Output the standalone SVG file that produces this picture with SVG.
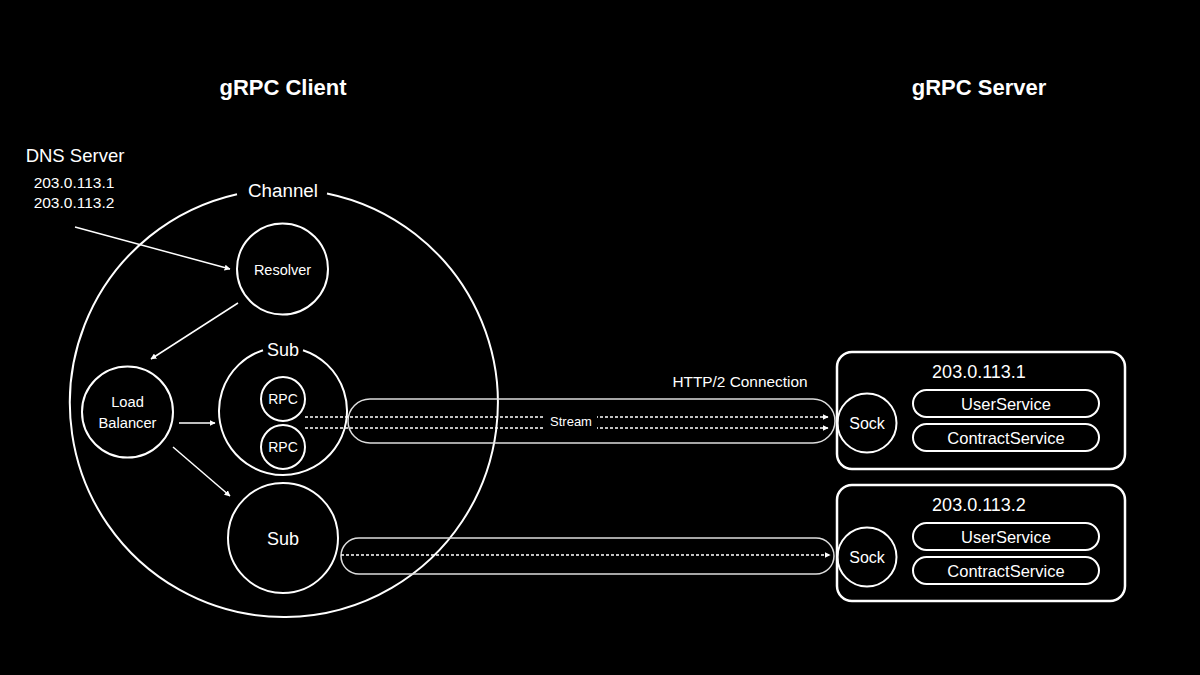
<svg xmlns="http://www.w3.org/2000/svg" width="1200" height="675" viewBox="0 0 1200 675">
<defs>
<style>
text{font-family:"Liberation Sans","Noto Sans",Arial,sans-serif;fill:#fff;text-anchor:middle}
.c{fill:none;stroke:#fff;stroke-width:2}
.pill{fill:none;stroke:#ddd;stroke-width:1.5}
.box{fill:none;stroke:#fff;stroke-width:2.5}
.arr{stroke:#fff;stroke-width:1.5;fill:none;marker-end:url(#ah)}
.dot{stroke:#fff;stroke-width:1.5;fill:none;stroke-dasharray:3 2;marker-end:url(#ah)}
.title{font-size:22px;font-weight:bold}
.svc{font-size:16.5px}
.ip{font-size:18px}
</style>
<marker id="ah" viewBox="0 0 10 10" refX="9" refY="5" markerWidth="6" markerHeight="6" orient="auto" markerUnits="userSpaceOnUse">
<path d="M0,0 L10,5 L0,10 z" fill="#fff"/>
</marker>
</defs>
<rect width="1200" height="675" fill="#000"/>

<text class="title" x="283" y="95">gRPC Client</text>
<text class="title" x="979" y="95">gRPC Server</text>

<g id="dns">
<text x="75" y="162" font-size="18.5">DNS Server</text>
<text x="74" y="188" font-size="15.5">203.0.113.1</text>
<text x="74" y="208" font-size="15.5">203.0.113.2</text>
</g>

<g id="channel">
<path class="c" d="M237,194.2 A214,214 0 1 0 327,193.4"/>
<text x="283" y="197" font-size="18.8">Channel</text>
</g>

<g id="resolver">
<circle class="c" cx="282.5" cy="269" r="45.5"/>
<text x="282.5" y="275" font-size="14.5">Resolver</text>
</g>

<g id="loadbalancer">
<circle class="c" cx="127.5" cy="412" r="45.5"/>
<text x="127.5" y="407" font-size="14.7">Load</text>
<text x="127.5" y="428" font-size="14.7">Balancer</text>
</g>

<g id="sub1">
<path class="c" d="M263,350.2 A64,64 0 1 0 303,350.2"/>
<text x="283" y="356" font-size="18">Sub</text>
</g>
<g id="rpc1">
<circle class="c" cx="283" cy="399" r="22"/>
<text x="283" y="404" font-size="14">RPC</text>
</g>
<g id="rpc2">
<circle class="c" cx="283" cy="447" r="22"/>
<text x="283" y="452" font-size="14">RPC</text>
</g>

<g id="sub2">
<circle class="c" cx="283" cy="538" r="55"/>
<text x="283" y="545" font-size="18">Sub</text>
</g>

<g id="conn1">
<rect class="pill" x="348" y="399" width="487" height="44" rx="22"/>
<text x="740" y="387" font-size="15.4">HTTP/2 Connection</text>
</g>
<g id="conn2">
<rect class="pill" x="341" y="538" width="493" height="36" rx="18"/>
</g>

<g id="server1">
<rect class="box" x="837" y="352" width="288" height="117" rx="15"/>
<text class="ip" x="979" y="378">203.0.113.1</text>
<circle class="c" cx="867" cy="423" r="29.5"/>
<text x="867" y="429" font-size="16">Sock</text>
<rect class="c" x="913" y="390" width="186" height="27" rx="13.5"/>
<text class="svc" x="1006" y="409.5">UserService</text>
<rect class="c" x="913" y="424" width="186" height="27" rx="13.5"/>
<text class="svc" x="1006" y="443.5">ContractService</text>
</g>

<g id="server2">
<rect class="box" x="837" y="485" width="288" height="116" rx="15"/>
<text class="ip" x="979" y="511">203.0.113.2</text>
<circle class="c" cx="867" cy="557" r="29.5"/>
<text x="867" y="563" font-size="16">Sock</text>
<rect class="c" x="913" y="523" width="186" height="27" rx="13.5"/>
<text class="svc" x="1006" y="542.5">UserService</text>
<rect class="c" x="913" y="557" width="186" height="27" rx="13.5"/>
<text class="svc" x="1006" y="576.5">ContractService</text>
</g>

<g id="connectors">
<line class="arr" x1="75" y1="227" x2="230" y2="269"/>
<line class="arr" x1="238" y1="303" x2="151" y2="359"/>
<line class="arr" x1="179" y1="423" x2="215" y2="423"/>
<line class="arr" x1="173" y1="447" x2="230" y2="496"/>
<line class="dot" x1="305" y1="417" x2="828" y2="417"/>
<line class="dot" x1="305" y1="428" x2="828" y2="428"/>
<line class="dot" x1="341" y1="555" x2="830" y2="555"/>
<rect x="545" y="411" width="52" height="22" fill="#000"/>
<text x="571" y="426" font-size="13">Stream</text>
</g>
</svg>
